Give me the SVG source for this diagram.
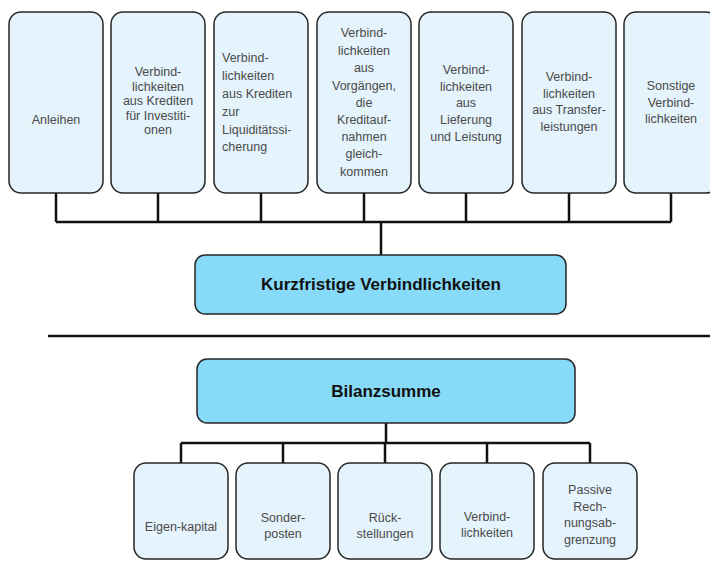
<svg xmlns="http://www.w3.org/2000/svg" width="710" height="564" viewBox="0 0 710 564">
<style>
.box{fill:#e5f3fc;stroke:#262626;stroke-width:1.5}
.main{fill:#87dbf8;stroke:#262626;stroke-width:1.5}
.t{font-family:"Liberation Sans",Arial,sans-serif;font-size:12.5px;fill:#4a4a4a;text-anchor:middle}
.tl{text-anchor:start}
.b{font-family:"Liberation Sans",Arial,sans-serif;font-size:17px;font-weight:bold;fill:#111;text-anchor:middle}
.c{fill:none;stroke:#111;stroke-width:2.5}
</style>
<rect width="710" height="564" fill="#fff"/>
<g id="connectors">
<path class="c" d="M56,193V222M158,193V222M261,193V222M364,193V222M466,193V222M569,193V222M671,193V222M56,222H671M381,222V255"/>
<path class="c" d="M48,336H710"/>
<path class="c" d="M386,423V443M181,443H590M181,443V463M283,443V463M385,443V463M487,443V463M590,443V463"/>
</g>
<g id="anleihen"><rect class="box" x="9" y="12" width="94" height="181" rx="12"/><text class="t" x="56" y="124">Anleihen</text></g>
<g id="investitionen"><rect class="box" x="111" y="12" width="94" height="181" rx="12"/>
<text class="t" x="158" y="76">Verbind-</text><text class="t" x="158" y="90.5">lichkeiten</text><text class="t" x="158" y="105">aus Krediten</text><text class="t" x="158" y="119.5">für Investiti-</text><text class="t" x="158" y="134">onen</text></g>
<g id="liquiditaet"><rect class="box" x="214" y="12" width="94" height="181" rx="12"/>
<text class="t tl" x="222" y="62">Verbind-</text><text class="t tl" x="222" y="80">lichkeiten</text><text class="t tl" x="222" y="98">aus Krediten</text><text class="t tl" x="222" y="116">zur</text><text class="t tl" x="222" y="134">Liquiditätssi-</text><text class="t tl" x="222" y="151">cherung</text></g>
<g id="vorgaenge"><rect class="box" x="317" y="12" width="94" height="181" rx="12"/>
<text class="t" x="364" y="37">Verbind-</text><text class="t" x="364" y="55">lichkeiten</text><text class="t" x="364" y="72">aus</text><text class="t" x="364" y="90">Vorgängen,</text><text class="t" x="364" y="107">die</text><text class="t" x="364" y="124">Kreditauf-</text><text class="t" x="364" y="141">nahmen</text><text class="t" x="364" y="158">gleich-</text><text class="t" x="364" y="176">kommen</text></g>
<g id="lieferung"><rect class="box" x="419" y="12" width="94" height="181" rx="12"/>
<text class="t" x="466" y="74">Verbind-</text><text class="t" x="466" y="90.5">lichkeiten</text><text class="t" x="466" y="107">aus</text><text class="t" x="466" y="124">Lieferung</text><text class="t" x="466" y="141">und Leistung</text></g>
<g id="transfer"><rect class="box" x="522" y="12" width="94" height="181" rx="12"/>
<text class="t" x="569" y="81">Verbind-</text><text class="t" x="569" y="97.5">lichkeiten</text><text class="t" x="569" y="114">aus Transfer-</text><text class="t" x="569" y="131">leistungen</text></g>
<g id="sonstige"><rect class="box" x="624" y="12" width="94" height="181" rx="12"/>
<text class="t" x="671" y="90">Sonstige</text><text class="t" x="671" y="106.5">Verbind-</text><text class="t" x="671" y="123">lichkeiten</text></g>
<g id="kurzfristig"><rect class="main" x="195" y="255" width="371" height="59" rx="10"/><text class="b" x="381" y="290">Kurzfristige Verbindlichkeiten</text></g>
<g id="bilanzsumme"><rect class="main" x="197" y="359" width="378" height="64" rx="10"/><text class="b" x="386" y="397">Bilanzsumme</text></g>
<g id="eigenkapital"><rect class="box" x="134" y="463" width="94" height="96" rx="12"/><text class="t" x="181" y="531">Eigen-kapital</text></g>
<g id="sonderposten"><rect class="box" x="236" y="463" width="94" height="96" rx="12"/><text class="t" x="283" y="522">Sonder-</text><text class="t" x="283" y="538">posten</text></g>
<g id="rueckstellungen"><rect class="box" x="338" y="463" width="94" height="96" rx="12"/><text class="t" x="385" y="522">Rück-</text><text class="t" x="385" y="538">stellungen</text></g>
<g id="verbindlichkeiten"><rect class="box" x="440" y="463" width="94" height="96" rx="12"/><text class="t" x="487" y="521">Verbind-</text><text class="t" x="487" y="537">lichkeiten</text></g>
<g id="rap"><rect class="box" x="543" y="463" width="94" height="96" rx="12"/><text class="t" x="590" y="494">Passive</text><text class="t" x="590" y="511">Rech-</text><text class="t" x="590" y="527">nungsab-</text><text class="t" x="590" y="544">grenzung</text></g>
</svg>
